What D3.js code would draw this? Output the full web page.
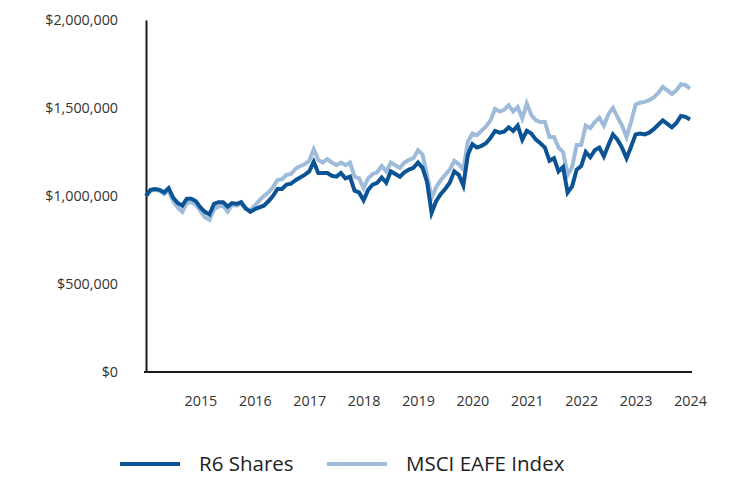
<!DOCTYPE html>
<html>
<head>
<meta charset="utf-8">
<script src="https://cdn.jsdelivr.net/npm/d3@7"></script>
<style>
  html, body { margin: 0; padding: 0; background: #fff; }
  svg { display: block; font-family: "Open Sans", "Noto Sans", sans-serif; }
</style>
</head>
<body>
<svg id="chart" width="732" height="480"></svg>
<script>
// Month-end values, Dec 2014 .. Dec 2024 (121 months), in millions of dollars
const r6Shares = [
  1.00, 1.035, 1.04, 1.035, 1.02, 1.045, 0.99, 0.96, 0.945, 0.985, 0.985, 0.97,
  0.935, 0.91, 0.895, 0.955, 0.965, 0.965, 0.94, 0.96, 0.955, 0.965, 0.93, 0.91,
  0.925, 0.935, 0.945, 0.97, 1.00, 1.04, 1.04, 1.065, 1.07, 1.09, 1.105, 1.12,
  1.14, 1.195, 1.13, 1.13, 1.13, 1.115, 1.11, 1.13, 1.10, 1.11, 1.03, 1.02,
  0.975, 1.035, 1.065, 1.075, 1.105, 1.075, 1.14, 1.125, 1.11, 1.135, 1.15, 1.16,
  1.19, 1.16, 1.08, 0.905, 0.97, 1.01, 1.04, 1.075, 1.14, 1.12, 1.06, 1.235,
  1.295, 1.275, 1.285, 1.30, 1.33, 1.37, 1.36, 1.365, 1.39, 1.37, 1.40, 1.32,
  1.37, 1.355, 1.32, 1.30, 1.275, 1.20, 1.215, 1.14, 1.165, 1.02, 1.055, 1.15,
  1.17, 1.25, 1.22, 1.26, 1.275, 1.225, 1.29, 1.35, 1.32, 1.275, 1.215, 1.28,
  1.35, 1.355, 1.35, 1.36, 1.38, 1.405, 1.43, 1.41, 1.39, 1.415, 1.455, 1.45,
  1.435
];
const msciEafe = [
  1.00, 1.03, 1.035, 1.03, 1.01, 1.03, 0.97, 0.935, 0.91, 0.96, 0.965, 0.95,
  0.915, 0.88, 0.865, 0.925, 0.94, 0.945, 0.91, 0.95, 0.945, 0.955, 0.925, 0.92,
  0.945, 0.975, 1.00, 1.02, 1.05, 1.09, 1.095, 1.12, 1.125, 1.155, 1.17, 1.18,
  1.20, 1.265, 1.205, 1.19, 1.21, 1.19, 1.175, 1.19, 1.175, 1.19, 1.11, 1.10,
  1.045, 1.10, 1.125, 1.135, 1.17, 1.14, 1.19, 1.175, 1.16, 1.19, 1.205, 1.215,
  1.26, 1.235, 1.12, 0.99, 1.05, 1.09, 1.12, 1.15, 1.20, 1.18, 1.15, 1.31,
  1.355, 1.345, 1.37, 1.395, 1.43, 1.495, 1.48, 1.49, 1.515, 1.48, 1.505, 1.44,
  1.525, 1.46, 1.43, 1.42, 1.42, 1.335, 1.335, 1.275, 1.25, 1.12, 1.165, 1.29,
  1.29, 1.40, 1.385, 1.42, 1.445, 1.40, 1.465, 1.50, 1.45, 1.40, 1.335, 1.42,
  1.52, 1.53, 1.535, 1.545, 1.56, 1.585, 1.62, 1.60, 1.58, 1.60, 1.635, 1.63,
  1.61
];
const seriesNames = ["R6 Shares", "MSCI EAFE Index"];
const yearLabels = ["2015", "2016", "2017", "2018", "2019", "2020", "2021", "2022", "2023", "2024"];
const yTickValues = [0, 500000, 1000000, 1500000, 2000000];

const svg = d3.select("#chart");
const plotLeft = 146, plotRight = 690, plotTop = 20, plotBottom = 372;

const x = d3.scaleLinear().domain([0, r6Shares.length - 1]).range([plotLeft, plotRight]);
const y = d3.scaleLinear().domain([0, 2000000]).range([plotBottom, plotTop]);

const colors = { r6: "#0b5394", eafe: "#9ebcda" };

// Y axis
const yAxis = d3.axisLeft(y)
  .tickValues(yTickValues)
  .tickSize(0)
  .tickPadding(28)
  .tickFormat(d => "$" + d3.format(",")(d));
const gy = svg.append("g").attr("transform", `translate(${plotLeft},0)`).call(yAxis);
gy.select(".domain").attr("stroke", "#1a1a1a").attr("stroke-width", 2);
gy.selectAll("text").attr("font-size", 14.3).attr("fill", "#333")
  .attr("font-family", "'Open Sans', 'Noto Sans', sans-serif");

// X axis (year ticks at each December)
const xAxis = d3.axisBottom(x)
  .tickValues(yearLabels.map((_, i) => (i + 1) * 12))
  .tickSize(0)
  .tickPadding(24)
  .tickFormat((d, i) => yearLabels[i]);
const gx = svg.append("g").attr("transform", `translate(0,${plotBottom})`).call(xAxis);
gx.select(".domain").attr("stroke", "#1a1a1a").attr("stroke-width", 2)
  .attr("d", `M${plotLeft - 2},0H${plotRight + 2}`);
gx.selectAll("text").attr("font-size", 14.3).attr("fill", "#333")
  .attr("font-family", "'Open Sans', 'Noto Sans', sans-serif");

// Lines
const line = d3.line().x((d, i) => x(i)).y(d => y(d * 1000000));
svg.append("path").datum(msciEafe)
  .attr("fill", "none").attr("stroke", colors.eafe).attr("stroke-width", 4)
  .attr("stroke-linejoin", "miter").attr("d", line);
svg.append("path").datum(r6Shares)
  .attr("fill", "none").attr("stroke", colors.r6).attr("stroke-width", 4)
  .attr("stroke-linejoin", "miter").attr("d", line);

// Legend
const legend = svg.append("g");
const items = [
  { name: seriesNames[0], color: colors.r6, x0: 120 },
  { name: seriesNames[1], color: colors.eafe, x0: 327 }
];
items.forEach(it => {
  legend.append("line")
    .attr("x1", it.x0).attr("x2", it.x0 + 60)
    .attr("y1", 464).attr("y2", 464)
    .attr("stroke", it.color).attr("stroke-width", 4);
  legend.append("text")
    .attr("x", it.x0 + 79).attr("y", 464)
    .attr("dy", "0.35em")
    .attr("font-size", 20.5).attr("fill", "#222")
    .text(it.name);
});
</script>
</body>
</html>
